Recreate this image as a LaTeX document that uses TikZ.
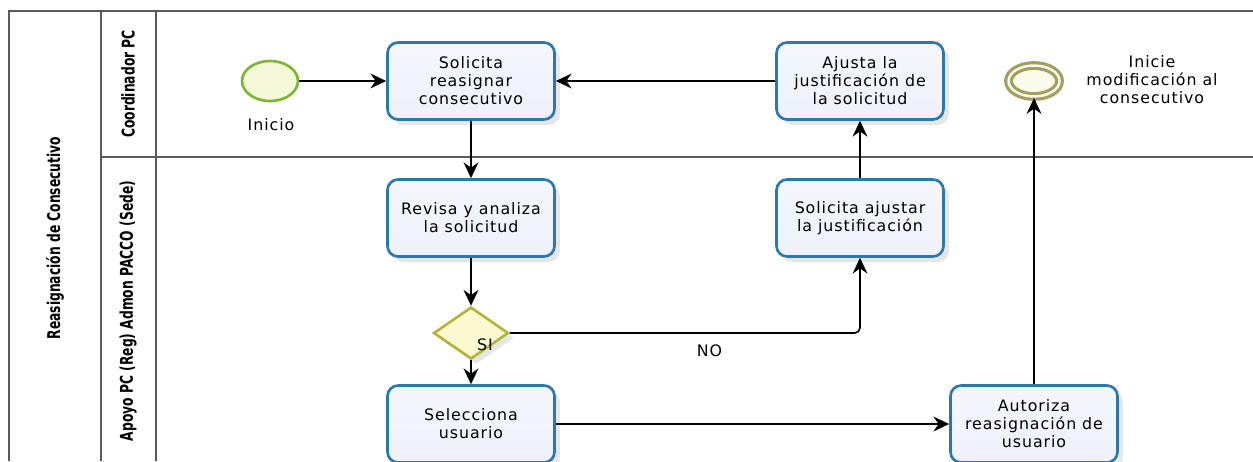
\documentclass[tikz,border=0pt]{standalone}
\usepackage{fontspec}
\setmainfont{DejaVu Sans}
\newfontfamily\lanefont[FakeStretch=0.7]{DejaVu Sans}
\usetikzlibrary{shapes.geometric,shadows,arrows.meta}

\definecolor{taskblue}{HTML}{2A78AC}
\definecolor{taskfill}{HTML}{EEF1FB}
\definecolor{startgreen}{HTML}{7CB82F}
\definecolor{startfill}{HTML}{F4F8D8}
\definecolor{endolive}{HTML}{A39F62}
\definecolor{endfill}{HTML}{FBFBEC}
\definecolor{gateline}{HTML}{B5B33A}
\definecolor{gatefill}{HTML}{FAF9CF}
\definecolor{poolgray}{HTML}{5A5A5A}

\begin{document}
\begin{tikzpicture}[x=0.02cm,y=-0.02cm]
    \tikzstyle{every node} = [font=\fontsize{9}{10.2}\selectfont\addfontfeatures{LetterSpace=6}]
    \tikzstyle{task} = [draw=taskblue, line width=1.5pt, top color=white!40!taskfill, bottom color=taskfill, rounded corners=6pt, minimum width=3.34cm, minimum height=1.54cm, align=center, drop shadow={shadow xshift=3pt,shadow yshift=-3pt,opacity=0.2}]
    \tikzstyle{lane} = [font=\lanefont\bfseries\fontsize{10}{12}\selectfont, rotate=90]
    \tikzstyle{flow} = [-{Stealth[length=9pt,width=8.5pt,inset=3pt]}, line width=0.9pt]
    \useasboundingbox (0,0) rectangle (1253,461);

    % pool and lanes
    \draw[poolgray, line width=0.9pt] (9,461) |- (1253,11);
    \draw[poolgray, line width=0.9pt] (101,11) -- (101,461);
    \draw[poolgray, line width=0.9pt] (156,11) -- (156,461);
    \draw[poolgray, line width=0.9pt] (101,157) -- (1253,157);
    \node[lane] (poolLabel) at (55,238) {Reasignación de Consecutivo};
    \node[lane] (coordLabel) at (128,84) {Coordinador PC};
    \node[lane] (apoyoLabel) at (128,311) {Apoyo PC (Reg) Admon PACCO (Sede)};

    % place nodes
    \node[ellipse, draw=startgreen, line width=1.5pt, fill=startfill, inner sep=0pt, minimum width=1.12cm, minimum height=0.8cm] (inicio) at (270,81) {};
    \node (inicioLabel) at (271,125) {Inicio};
    \node[task] (solicitaReasignar) at (471,81) {Solicita\\reasignar\\consecutivo};
    \node[task] (ajustaJust) at (860,81) {Ajusta la\\justificación de\\la solicitud};
    \node[ellipse, draw=endolive, line width=1.8pt, double=endfill, double distance=1.4pt, fill=endfill, inner sep=0pt, minimum width=1.02cm, minimum height=0.62cm] (fin) at (1034,81) {};
    \node[align=center] (finLabel) at (1152,80) {Inicie\\modificación al\\consecutivo};
    \node[task] (revisa) at (471,218) {Revisa y analiza\\la solicitud};
    \node[task] (solicitaAjustar) at (860,218) {Solicita ajustar\\la justificación};
    \node[diamond, draw=gateline, line width=1.5pt, fill=gatefill, inner sep=0pt, minimum width=1.5cm, minimum height=1.04cm, drop shadow={shadow xshift=3pt,shadow yshift=-3pt,opacity=0.2}] (decision) at (471,333) {};
    \node (siLabel) at (485,345) {SI};
    \node[task] (selecciona) at (471,424) {Selecciona\\usuario};
    \node[task] (autoriza) at (1034,424) {Autoriza\\reasignación de\\usuario};

    % Connections
    \draw[flow] (inicio) -- (solicitaReasignar);
    \draw[flow] (ajustaJust) -- (solicitaReasignar);
    \draw[flow] (solicitaReasignar) -- (revisa);
    \draw[flow] (revisa) -- (decision);
    \draw[flow] (decision) -- (selecciona);
    \draw[flow, rounded corners=3pt] (decision.east) -| node[pos=0.285, below=3pt] (noLabel) {NO} (solicitaAjustar.south);
    \draw[flow] (solicitaAjustar) -- (ajustaJust);
    \draw[flow] (selecciona) -- (autoriza);
    \draw[flow] (autoriza) -- (fin);
\end{tikzpicture}
\end{document}
